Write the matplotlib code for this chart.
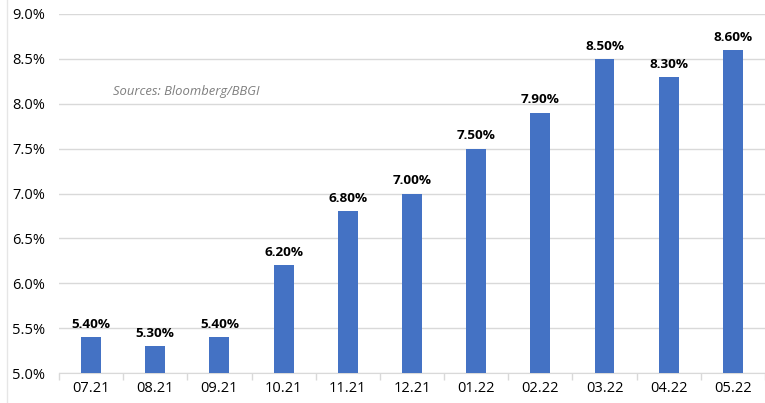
import matplotlib
matplotlib.use("Agg")
import matplotlib.pyplot as plt
from matplotlib.ticker import FixedLocator, NullFormatter
from matplotlib.lines import Line2D

categories = ["07.21", "08.21", "09.21", "10.21", "11.21", "12.21", "01.22", "02.22", "03.22", "04.22", "05.22"]
values = [5.4, 5.3, 5.4, 6.2, 6.8, 7.0, 7.5, 7.9, 8.5, 8.3, 8.6]
yticks = [5.0, 5.5, 6.0, 6.5, 7.0, 7.5, 8.0, 8.5, 9.0]

plt.rcParams['font.family'] = ['Open Sans', 'DejaVu Sans']

fig = plt.figure(figsize=(7.65, 4.03), dpi=100)
ax = fig.add_axes([0.0771, 0.0744, 0.9229, 0.8909])

x = list(range(len(categories)))
ax.bar(x, [v - 5.0 for v in values], bottom=5.0, width=0.31, color="#4472C4", zorder=3)
for xi, v in zip(x, values):
    ax.text(xi, v + 0.07, f"{v:.2f}%", ha="center", va="bottom", fontsize=9.7, fontweight="bold", color="#000000", zorder=4)

ax.set_ylim(5.0, 9.0)
ax.set_xlim(-0.5, len(categories) - 0.5)
ax.set_yticks(yticks)
ax.set_yticklabels([f"{t:.1f}%" for t in yticks], fontsize=10.5, color="#000000")
ax.yaxis.grid(True, color="#D9D9D9", linewidth=1, zorder=0)
ax.tick_params(axis="y", length=0, pad=10)
ax.set_xticks(x)
ax.set_xticklabels(categories, fontsize=10.5, color="#000000")
ax.tick_params(axis="x", which="major", length=0, pad=6)
ax.xaxis.set_minor_locator(FixedLocator([i - 0.5 for i in range(len(categories) + 1)]))
ax.xaxis.set_minor_formatter(NullFormatter())
ax.tick_params(axis="x", which="minor", length=5, color="#D9D9D9", width=1)

for s in ["top", "right", "left"]:
    ax.spines[s].set_visible(False)
ax.spines["bottom"].set_color("#D9D9D9")

ax.text(0.0765, 8.14, "Sources: Bloomberg/BBGI", transform=ax.get_yaxis_transform(), fontsize=9.4, style="italic", color="#7F7F7F", va="center", ha="left")

fig.add_artist(Line2D([7 / 765, 7 / 765], [0, 1], transform=fig.transFigure, color="#E6E6E6", linewidth=1))

fig.savefig("out.png", dpi=100, facecolor="white")
